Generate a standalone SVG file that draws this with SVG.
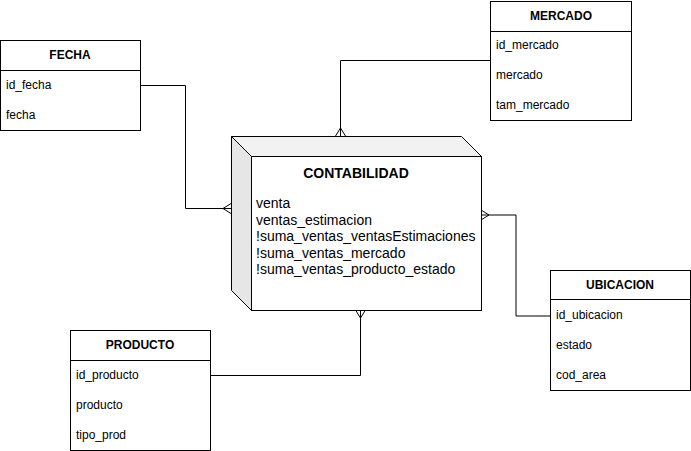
<svg xmlns="http://www.w3.org/2000/svg" width="691" height="451" viewBox="0 0 691 451">
<style>
text{font-family:"Liberation Sans",Arial,Helvetica,sans-serif;fill:#000}
.box{fill:#fff;stroke:#000;stroke-width:1}
.sep{stroke:#000;stroke-width:1;fill:none}
.hdr{font-size:12px;font-weight:bold;text-anchor:middle}
.row{font-size:12px}
.big{font-size:14px}
.bigh{font-size:14px;font-weight:bold;text-anchor:middle}
.edge{fill:none;stroke:#000;stroke-width:1}
</style>
<rect width="691" height="451" fill="#fff"/>
<g id="connectors">
<path class="edge" d="M140,85.5 H185.5 V208.5 H231"/>
<path class="edge" d="M231,203.5 L223,208.5 L231,213.5"/>
<path class="edge" d="M490,60.5 H340.5 V136"/>
<path class="edge" d="M335.5,136 L340.5,128 L345.5,136"/>
<path class="edge" d="M210,375.5 H360.5 V310"/>
<path class="edge" d="M355.5,310 L360.5,318 L365.5,310"/>
<path class="edge" d="M550,316 H516 V215 H481"/>
<path class="edge" d="M481,210 L489,215 L481,220"/>
</g>
<g id="contabilidad">
<polygon points="231.5,136.5 461.5,136.5 481.5,156.5 251.5,156.5" fill="#f2f2f2" stroke="#000"/>
<polygon points="231.5,136.5 251.5,156.5 251.5,310.5 231.5,290.5" fill="#e6e6e6" stroke="#000"/>
<rect x="251.5" y="156.5" width="230" height="154" fill="#fff" stroke="#000"/>
<text class="bigh" x="356" y="178">CONTABILIDAD</text>
<text class="big" x="256" y="208">venta</text>
<text class="big" x="256" y="224.5">ventas_estimacion</text>
<text class="big" x="256" y="241">!suma_ventas_ventasEstimaciones</text>
<text class="big" x="256" y="257.5">!suma_ventas_mercado</text>
<text class="big" x="256" y="274">!suma_ventas_producto_estado</text>
</g>
<g id="fecha">
<rect class="box" x="0.5" y="40.5" width="140" height="90"/>
<line class="sep" x1="0.5" y1="70.5" x2="140.5" y2="70.5"/>
<text class="hdr" x="70" y="59">FECHA</text>
<text class="row" x="6" y="89">id_fecha</text>
<text class="row" x="6" y="119">fecha</text>
</g>
<g id="mercado">
<rect class="box" x="490.5" y="1.5" width="141" height="119"/>
<line class="sep" x1="490.5" y1="31.5" x2="631.5" y2="31.5"/>
<text class="hdr" x="561" y="20">MERCADO</text>
<text class="row" x="496" y="49">id_mercado</text>
<text class="row" x="496" y="79">mercado</text>
<text class="row" x="496" y="109">tam_mercado</text>
</g>
<g id="ubicacion">
<rect class="box" x="550.5" y="270.5" width="140" height="120"/>
<line class="sep" x1="550.5" y1="299.5" x2="690.5" y2="299.5"/>
<text class="hdr" x="620" y="289">UBICACION</text>
<text class="row" x="556" y="319">id_ubicacion</text>
<text class="row" x="556" y="349">estado</text>
<text class="row" x="556" y="379">cod_area</text>
</g>
<g id="producto">
<rect class="box" x="70.5" y="330.5" width="140" height="120"/>
<line class="sep" x1="70.5" y1="360.5" x2="210.5" y2="360.5"/>
<text class="hdr" x="140" y="349">PRODUCTO</text>
<text class="row" x="76" y="379">id_producto</text>
<text class="row" x="76" y="409">producto</text>
<text class="row" x="76" y="439">tipo_prod</text>
</g>
</svg>
